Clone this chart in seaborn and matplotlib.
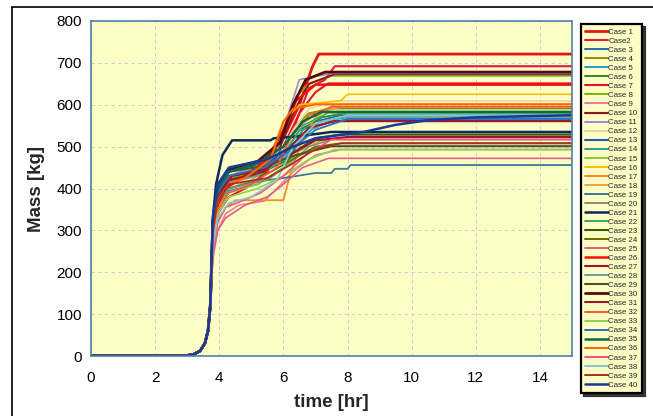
import matplotlib
matplotlib.use("Agg")
import matplotlib.pyplot as plt
import seaborn as sns
import pandas as pd
from matplotlib.lines import Line2D

sns.set_theme(style="white")
plt.rcParams['font.family'] = ['Liberation Sans', 'DejaVu Sans']

# shared onset (all cases overlap here)
ONSET_T = [0.0, 2.9, 3.2, 3.4, 3.55, 3.65, 3.72]
ONSET_M = [0, 0, 4, 12, 30, 60, 120]

case_names = ["Case 1", "Case2"] + [f"Case {i}" for i in range(3, 41)]

case_colors = [
    "#e3161d", "#e8174a", "#1f6fb0", "#8f8f00", "#1f9fd0", "#2a8a2a", "#ea102a", "#7ab800",
    "#f07aa0", "#8b1a1a", "#9a8ad8", "#f5d0a0", "#1f5fb0", "#2aa090", "#8cc63f", "#f5c400",
    "#f39020", "#f5a040", "#3a7a9a", "#8a9070", "#0a2a5a", "#3aaa60", "#3a5a10", "#6a6a00",
    "#e06080", "#f01010", "#a01030", "#70a0a0", "#505030", "#5a0a0a", "#a01828", "#f06030",
    "#90d050", "#2a70c0", "#0a6a40", "#ff6a00", "#ff5080", "#80c8d0", "#a83020", "#1a3a9a",
]

case_widths = [2.0, 1.5, 1.3, 1.3, 1.2, 1.3, 1.5, 1.2, 1.2, 1.5, 1.2, 1.2, 1.5, 1.2, 1.2, 1.2,
               1.3, 1.2, 1.3, 1.2, 1.8, 1.2, 1.5, 1.3, 1.2, 1.8, 1.5, 1.2, 1.5, 2.0, 1.5, 1.2,
               1.2, 1.3, 1.8, 1.5, 1.2, 1.2, 1.3, 1.8]

case_t = [
    [3.8, 3.95, 4.3, 5.0, 5.5, 6.0, 6.5, 6.9, 7.1, 15],
    [3.8, 3.95, 4.3, 5.0, 5.8, 6.3, 6.8, 7.3, 7.6, 15],
    [3.8, 3.95, 4.3, 5.2, 6.0, 6.5, 7.0, 7.8, 15],
    [3.8, 3.95, 4.3, 5.0, 5.8, 6.3, 6.8, 7.5, 15],
    [3.8, 3.95, 4.3, 5.2, 6.0, 6.5, 7.0, 8.0, 15],
    [3.8, 3.95, 4.4, 5.5, 6.2, 6.6, 7.2, 8.0, 15],
    [3.8, 3.95, 4.3, 4.8, 5.5, 6.0, 6.5, 7.0, 7.4, 15],
    [3.8, 3.95, 4.3, 5.0, 5.6, 6.0, 6.4, 6.8, 7.5, 15],
    [3.8, 3.95, 4.2, 4.6, 5.4, 5.8, 6.3, 7.0, 7.8, 15],
    [3.8, 3.95, 4.3, 5.2, 5.9, 6.3, 6.8, 7.6, 15],
    [3.8, 3.95, 4.3, 5.0, 5.8, 6.2, 6.5, 7.5, 15],
    [3.8, 3.95, 4.3, 5.2, 5.8, 6.3, 6.8, 7.6, 15],
    [3.8, 3.95, 4.3, 5.5, 6.2, 6.8, 7.5, 15],
    [3.8, 3.95, 4.4, 5.4, 6.1, 6.6, 7.2, 8.0, 15],
    [3.8, 3.95, 4.3, 5.2, 6.0, 6.5, 7.2, 8.2, 15],
    [3.8, 3.95, 4.3, 5.0, 5.6, 6.0, 6.5, 7.8, 8.0, 15],
    [3.8, 3.95, 4.2, 4.5, 6.0, 6.2, 6.6, 7.0, 7.6, 15],
    [3.8, 3.95, 4.3, 5.0, 5.8, 6.4, 7.0, 7.8, 15],
    [3.8, 3.95, 4.3, 5.0, 6.0, 7.0, 7.5, 7.6, 8.0, 8.1, 15],
    [3.8, 3.95, 4.3, 5.5, 6.2, 6.8, 7.5, 15],
    [3.8, 3.9, 4.1, 4.4, 5.6, 5.7, 6.5, 7.5, 15],
    [3.8, 3.95, 4.3, 5.3, 6.0, 6.6, 7.4, 15],
    [3.8, 3.95, 4.3, 5.5, 6.2, 7.0, 7.8, 15],
    [3.8, 3.95, 4.4, 5.5, 6.3, 7.0, 7.8, 15],
    [3.8, 3.95, 4.2, 4.8, 5.5, 6.0, 6.6, 7.4, 15],
    [3.8, 3.95, 4.2, 4.8, 5.5, 6.0, 6.4, 7.0, 15],
    [3.8, 3.95, 4.4, 5.6, 6.2, 7.0, 8.0, 15],
    [3.8, 3.95, 4.3, 5.2, 6.0, 6.8, 7.8, 15],
    [3.8, 3.95, 4.3, 5.5, 6.4, 7.5, 15],
    [3.8, 3.95, 4.3, 5.2, 5.9, 6.3, 6.7, 7.3, 15],
    [3.8, 3.95, 4.3, 5.4, 6.1, 6.8, 7.6, 15],
    [3.8, 3.95, 4.3, 5.0, 5.8, 6.2, 6.8, 7.5, 15],
    [3.8, 3.95, 4.3, 5.2, 6.0, 6.8, 7.6, 15],
    [3.8, 3.95, 4.3, 5.4, 6.2, 7.0, 8.0, 15],
    [3.8, 3.95, 4.3, 5.2, 6.0, 6.6, 7.2, 15],
    [3.8, 3.95, 4.3, 4.8, 5.6, 6.0, 6.3, 7.0, 15],
    [3.8, 3.95, 4.2, 4.7, 5.3, 6.0, 6.7, 7.5, 15],
    [3.8, 3.95, 4.3, 5.0, 5.8, 6.3, 7.0, 8.0, 15],
    [3.8, 3.95, 4.3, 5.5, 6.3, 7.0, 7.8, 15],
    [3.8, 3.95, 4.3, 5.5, 6.3, 7.0, 8.5, 9.5, 10.5, 12.0, 15],
]

case_m = [
    [300, 380, 420, 440, 470, 520, 600, 690, 721, 721],
    [280, 370, 410, 430, 470, 540, 640, 660, 692, 692],
    [320, 400, 440, 455, 480, 540, 560, 575, 575],
    [310, 390, 425, 440, 470, 545, 580, 591, 591],
    [290, 360, 395, 410, 450, 510, 550, 566, 566],
    [300, 380, 430, 445, 470, 540, 570, 581, 581],
    [270, 340, 380, 400, 440, 500, 580, 630, 651, 651],
    [300, 380, 420, 440, 470, 530, 620, 650, 669, 669],
    [230, 300, 340, 360, 370, 400, 440, 480, 493, 493],
    [320, 400, 440, 460, 500, 580, 650, 673, 673],
    [310, 390, 430, 450, 490, 590, 660, 675, 675],
    [290, 370, 410, 430, 470, 540, 590, 609, 609],
    [320, 405, 445, 460, 500, 540, 561, 561],
    [300, 380, 420, 440, 480, 540, 560, 570, 570],
    [280, 350, 390, 410, 450, 490, 515, 525, 525],
    [300, 380, 425, 445, 480, 560, 600, 610, 625, 625],
    [260, 320, 355, 372, 372, 430, 520, 570, 601, 601],
    [280, 360, 400, 420, 460, 540, 580, 595, 595],
    [300, 370, 400, 415, 425, 437, 437, 447, 447, 456, 456],
    [290, 360, 400, 420, 460, 500, 517, 517],
    [330, 410, 480, 515, 515, 520, 525, 535, 535],
    [300, 380, 420, 440, 480, 550, 581, 581],
    [310, 390, 430, 445, 480, 520, 529, 529],
    [300, 380, 420, 435, 470, 500, 508, 508],
    [240, 300, 330, 360, 380, 410, 450, 472, 472],
    [290, 360, 400, 430, 470, 540, 610, 648, 648],
    [310, 390, 430, 450, 480, 515, 523, 523],
    [300, 375, 415, 430, 470, 540, 570, 570],
    [320, 400, 440, 455, 480, 501, 501],
    [320, 400, 445, 465, 510, 600, 660, 678, 678],
    [300, 380, 420, 440, 490, 545, 561, 561],
    [280, 350, 390, 410, 450, 520, 575, 595, 595],
    [270, 340, 380, 400, 430, 470, 493, 493],
    [310, 390, 430, 450, 490, 540, 566, 566],
    [320, 400, 440, 460, 500, 560, 583, 583],
    [290, 370, 410, 425, 470, 560, 590, 601, 601],
    [250, 320, 355, 370, 390, 430, 480, 517, 517],
    [260, 330, 365, 380, 420, 500, 555, 575, 575],
    [300, 370, 410, 425, 460, 495, 508, 508],
    [330, 410, 450, 470, 500, 520, 535, 552, 563, 570, 575],
]

x_ticks = [0, 2, 4, 6, 8, 10, 12, 14]
y_ticks = [0, 100, 200, 300, 400, 500, 600, 700, 800]

rows = []
for name, ts, ms in zip(case_names, case_t, case_m):
    for t, m in zip(ONSET_T + ts, ONSET_M + ms):
        rows.append({"case": name, "time": t, "mass": m})
df = pd.DataFrame(rows)

fig = plt.figure(figsize=(6.53, 4.16), dpi=100)
fig.patch.set_facecolor("white")
ax = fig.add_axes([91 / 653, 1 - 356 / 416, (572 - 91) / 653, (356 - 21) / 416])
bg = "#fdfdc6"
ax.set_facecolor(bg)

palette = dict(zip(case_names, case_colors))
sns.lineplot(data=df, x="time", y="mass", hue="case", palette=palette,
             hue_order=case_names, sort=False, estimator=None, legend=False,
             ax=ax, linewidth=1.3)
for line, lw in zip(ax.get_lines(), case_widths):
    line.set_linewidth(lw)

ax.set_xlim(0, 15)
ax.set_ylim(0, 800)
ax.set_xticks(x_ticks)
ax.set_yticks(y_ticks)
ax.grid(True, color="#bccbd2", linestyle=(0, (4, 4)), linewidth=0.6)
ax.set_axisbelow(True)
spine_c = "#4f7fae"
for s in ax.spines.values():
    s.set_color(spine_c)
    s.set_linewidth(1.2)
ax.tick_params(axis="both", which="both", direction="inout", length=5, width=1,
               color=spine_c, labelsize=11, labelcolor="black", pad=4)
ax.tick_params(axis="x", pad=8)
ax.set_xlabel("time [hr]", fontsize=13.5, fontweight="bold", labelpad=7)
ax.set_ylabel("Mass [kg]", fontsize=13.5, fontweight="bold", labelpad=8)

handles = [Line2D([0], [0], color=c, lw=max(w, 1.4)) for c, w in zip(case_colors, case_widths)]
leg = fig.legend(handles, case_names, loc="upper left",
                 bbox_to_anchor=(581 / 653, 1 - 24 / 416), fontsize=5.7,
                 labelspacing=0.19, handlelength=2.8, handletextpad=0.1,
                 borderpad=0.55, borderaxespad=0, frameon=True, fancybox=False,
                 shadow={"color": "#333333", "alpha": 1.0}, facecolor=bg, edgecolor="black")
leg.get_frame().set_linewidth(1.6)

# outer figure frame (top and left edges)
fig.add_artist(Line2D([12 / 653, 12 / 653], [0, 1 - 7 / 416], color="black", lw=1.2,
                      transform=fig.transFigure))
fig.add_artist(Line2D([12 / 653, 1], [1 - 7 / 416, 1 - 7 / 416], color="black", lw=1.2,
                      transform=fig.transFigure))

fig.savefig("out.png", dpi=100)
